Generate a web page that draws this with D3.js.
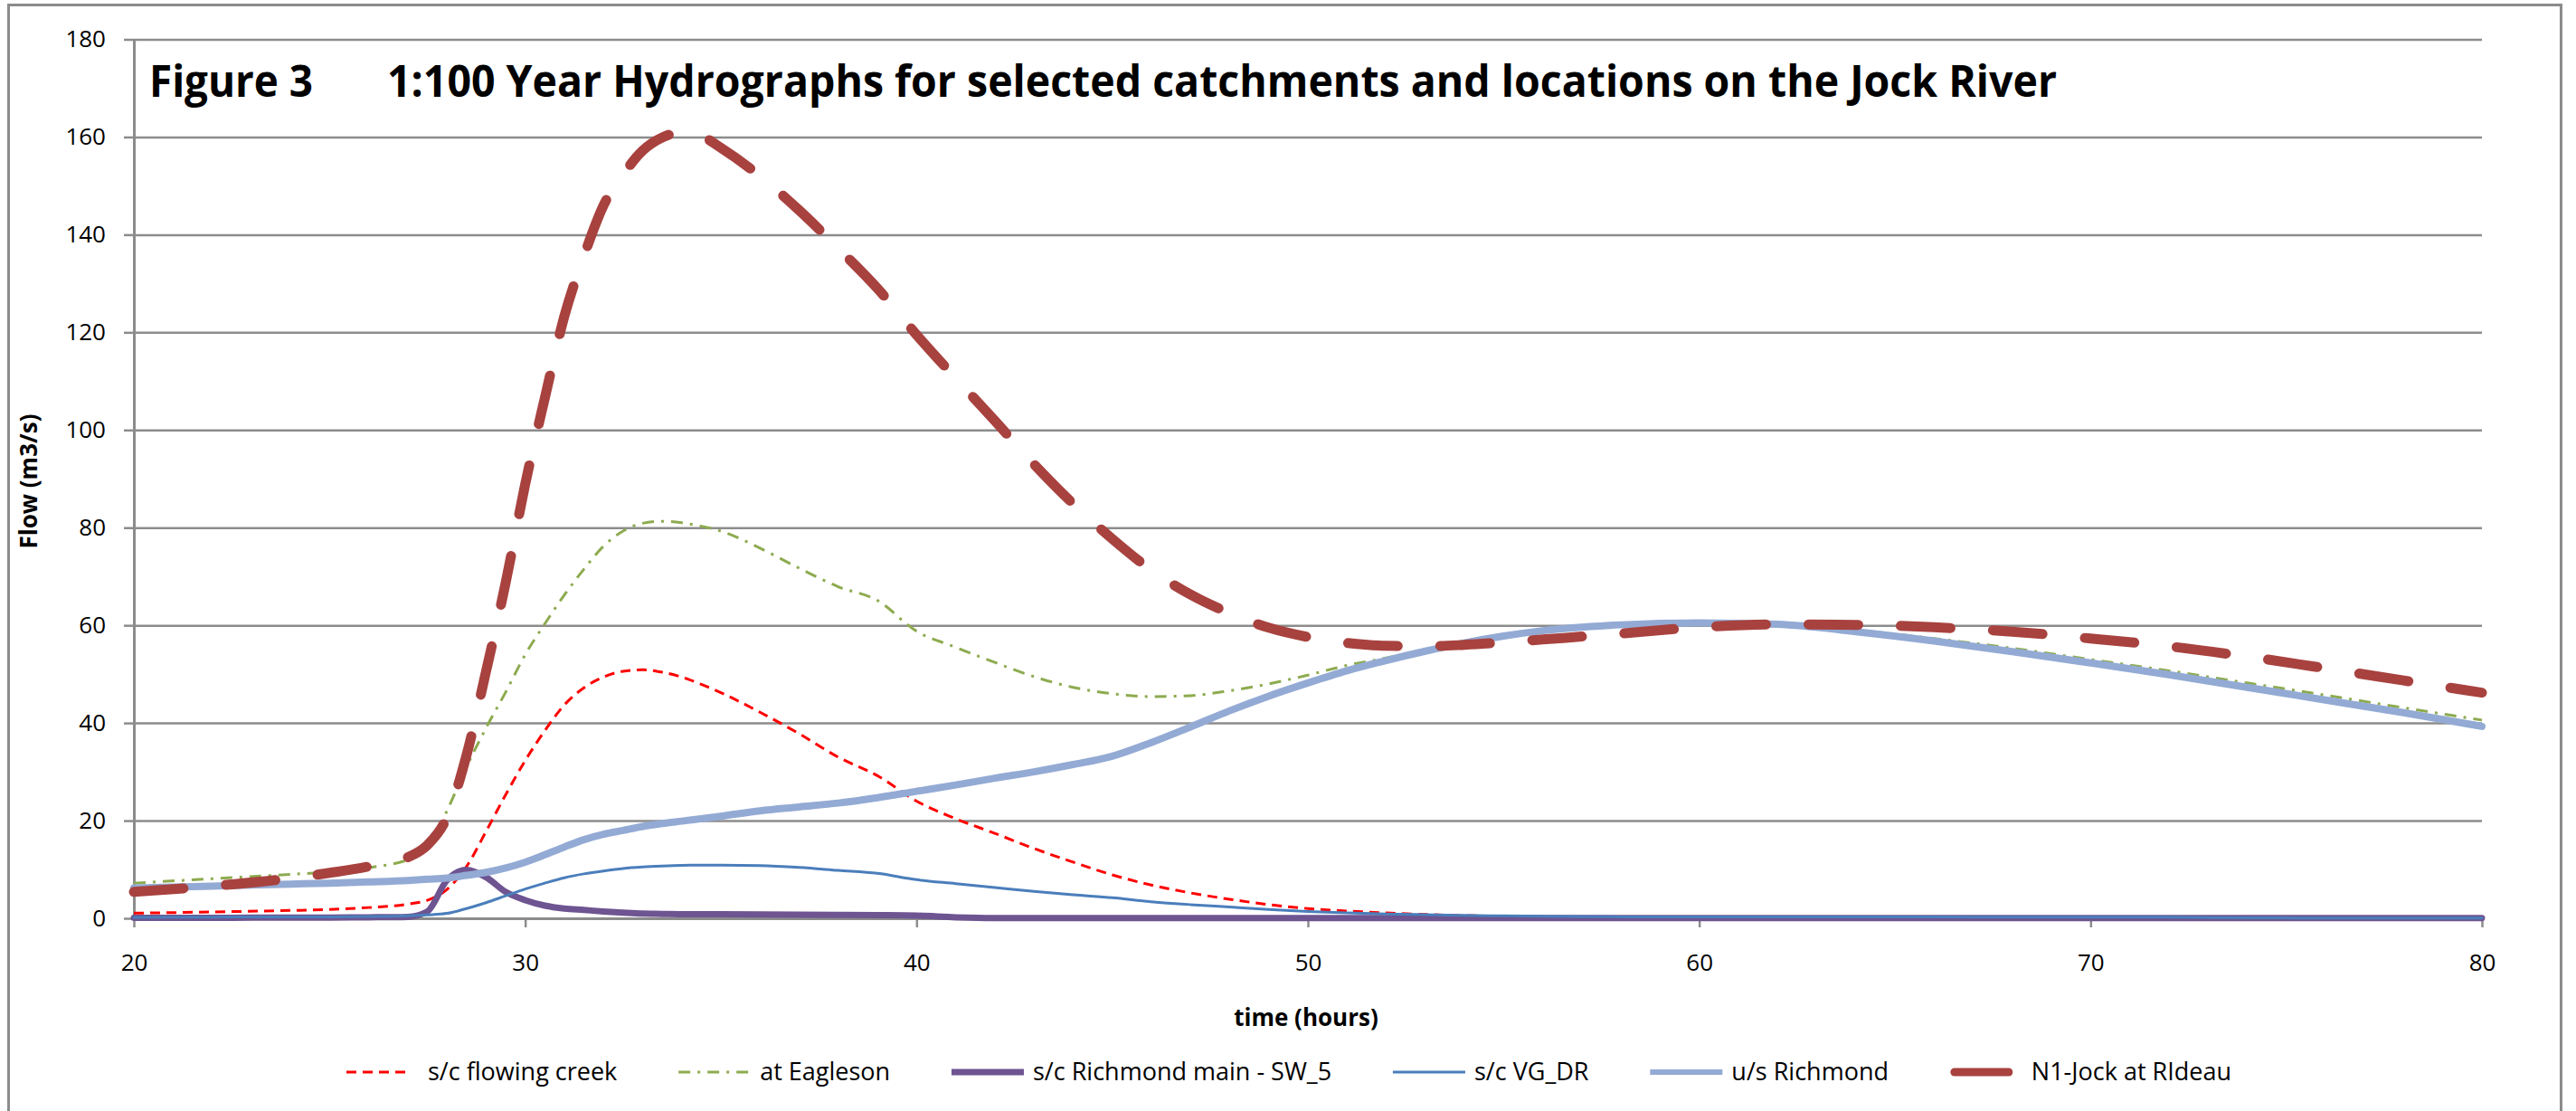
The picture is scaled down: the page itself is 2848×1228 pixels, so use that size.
<!DOCTYPE html>
<html><head><meta charset="utf-8">
<script src="https://cdn.jsdelivr.net/npm/d3@7"></script>
<style>html,body{margin:0;padding:0;background:#fff;} svg{display:block;}</style>
</head><body>
<svg id="chart" width="2848" height="1228"></svg>
<script>
// ---- DATA ----
const hours = [20,22,24,25,26,27,27.5,28,28.5,29,29.5,30,30.5,31,31.5,32,32.5,33,33.5,34,34.5,35,
  36,37,38,39,40,41,42,43,44,45,46,47,48,49,50,51,52,53,54,55,56,58,60,62,64,66,68,70,72,74,76,78,80];

const flowingCreek = [1.05,1.3,1.6,1.8,2.2,2.9,3.7,5.9,10.6,17.8,25.3,32.3,38.4,43.7,47.2,49.4,50.6,50.9,50.4,49.4,47.9,46.2,
  42.2,37.8,33.0,29.2,24.0,20.4,17.4,14.3,11.5,8.9,6.8,5.2,3.9,2.8,2.0,1.5,1.1,0.8,0.55,0.4,0.3,
  0.15,0.1,0.05,0.05,0.05,0.05,0.05,0.05,0.05,0.05,0.05,0.05];

const eagleson = [7.2,8.1,9.0,9.5,10.4,12.0,14.5,22,31,39,46.3,54,60.3,66.2,71.5,76.2,79.3,80.9,81.3,81,80.3,79.3,
  75.8,71.7,67.9,65.1,58.8,55.5,52.4,49.5,47.3,46.0,45.4,45.6,46.6,48.0,49.8,51.8,53.3,54.9,56.4,57.6,58.6,
  59.9,60.4,60.1,59.0,57.3,55.3,53.0,50.7,48.2,45.7,43.1,40.6];

const richmondMain = [0.1,0.1,0.15,0.15,0.2,0.3,1.4,7.8,9.9,8.4,5.4,3.7,2.6,2.0,1.7,1.4,1.15,0.95,0.9,0.85,0.85,0.85,
  0.8,0.75,0.7,0.65,0.55,0.2,0.05,0.05,0.05,0.05,0.05,0.05,0.05,0.05,0.05,0.05,0.05,0.05,0.05,0.05,0.05,
  0.05,0.05,0.05,0.05,0.05,0.05,0.05,0.05,0.05,0.05,0.05,0.05];

const vgDr = [0.2,0.25,0.3,0.3,0.35,0.5,0.7,1.0,2.0,3.2,4.6,6.0,7.2,8.3,9.1,9.7,10.2,10.5,10.7,10.85,10.9,10.9,
  10.8,10.4,9.8,9.2,7.9,7.1,6.3,5.5,4.8,4.2,3.4,2.8,2.3,1.8,1.4,1.1,0.9,0.75,0.6,0.5,0.4,
  0.3,0.3,0.28,0.27,0.26,0.25,0.25,0.22,0.1,0.05,0.05,0.05];

const usRichmond = [6.2,6.6,7.0,7.2,7.45,7.75,8.0,8.25,8.8,9.4,10.3,11.5,13.0,14.6,16.1,17.2,18.0,18.8,19.4,19.9,20.4,20.9,
  22.0,22.8,23.6,24.7,26.0,27.3,28.7,30.0,31.5,33.2,36.0,39.2,42.5,45.5,48.2,50.7,52.8,54.7,56.4,57.8,58.9,
  60.1,60.5,60.2,58.7,56.8,54.6,52.3,49.9,47.3,44.7,42.1,39.3];

const n1Jock = [5.4,6.6,8.2,9.3,10.6,12.5,15.0,20.7,33.4,50.6,68.7,88.9,106.5,123.3,135.6,146,152.3,157.2,159.9,160.9,160.2,157.8,
  152,145,137.2,129,119.5,110.6,101.9,93,84.9,77.7,71.3,66.3,62.5,59.5,57.6,56.4,55.8,55.7,56,56.5,57.1,
  58.3,59.6,60.2,60.1,59.6,58.7,57.3,55.7,53.6,51.2,48.7,46.2];

const seriesNames = ["s/c flowing creek","at Eagleson","s/c Richmond main - SW_5","s/c VG_DR","u/s Richmond","N1-Jock at RIdeau"];
const seriesValues = [flowingCreek, eagleson, richmondMain, vgDr, usRichmond, n1Jock];
const xTicks = [20,30,40,50,60,70,80];
const yTicks = [0,20,40,60,80,100,120,140,160,180];
const titleLabel = "Figure 3";
const titleText = "1:100 Year Hydrographs for selected catchments and locations on the Jock River";
const xTitle = "time (hours)";
const yTitle = "Flow (m3/s)";

// ---- STYLES ----
const styles = [
  {color:"#FF0000", width:3, dash:"11,7", cap:"butt"},
  {color:"#8DAB4F", width:3, dash:"13,8,3,8", cap:"butt"},
  {color:"#6E5491", width:7, dash:null, cap:"round"},
  {color:"#4A7EBB", width:3, dash:null, cap:"round"},
  {color:"#93AAD4", width:8, dash:null, cap:"round"},
  {color:"#A8423F", width:11, dash:"55,47", cap:"round"}
];

const W = 2848, H = 1228;
const plot = {left:148, right:2744, top:43.5, bottom:1015};
const font = "'Open Sans', 'Noto Sans', sans-serif";
const svg = d3.select("#chart");

const x = d3.scaleLinear().domain([20,80]).range([plot.left, plot.right]);
const y = d3.scaleLinear().domain([0,180]).range([plot.bottom, plot.top]);

svg.append("rect").attr("x",0).attr("y",0).attr("width",W).attr("height",H).attr("fill","#fff");
svg.append("rect").attr("x",9.5).attr("y",5.5).attr("width",2822).attr("height",1240)
  .attr("fill","none").attr("stroke","#8c8c8c").attr("stroke-width",3);

// gridlines
const grid = svg.append("g").attr("transform",`translate(${plot.left},0)`)
  .call(d3.axisLeft(y).tickValues(yTicks.filter(v=>v>0)).tickSize(-(plot.right-plot.left)).tickFormat(""));
grid.select(".domain").remove();
grid.selectAll("line").attr("stroke","#8c8c8c").attr("stroke-width",2.5);

// y axis
const yAxis = svg.append("g").attr("transform",`translate(${plot.left},0)`)
  .call(d3.axisLeft(y).tickValues(yTicks).tickSize(11).tickPadding(20).tickSizeOuter(0));
yAxis.select(".domain").attr("stroke","#8c8c8c").attr("stroke-width",3);
yAxis.selectAll(".tick line").attr("stroke","#8c8c8c").attr("stroke-width",2.5);
yAxis.selectAll("text").attr("font-family",font).attr("font-size",26).attr("fill","#000");

// x axis
const xAxis = svg.append("g").attr("transform",`translate(0,${plot.bottom})`)
  .call(d3.axisBottom(x).tickValues(xTicks).tickSize(10).tickPadding(30).tickSizeOuter(0));
xAxis.select(".domain").attr("stroke","#8c8c8c").attr("stroke-width",3);
xAxis.selectAll(".tick line").attr("stroke","#8c8c8c").attr("stroke-width",2.5);
xAxis.selectAll("text").attr("font-family",font).attr("font-size",26).attr("fill","#000");

// series lines
const line = d3.line().x(d=>x(d[0])).y(d=>y(d[1])).curve(d3.curveMonotoneX);
seriesValues.forEach((vals,i)=>{
  const s = styles[i];
  const pts = hours.map((h,j)=>[h, vals[j]]);
  const p = svg.append("path").datum(pts).attr("d",line)
    .attr("fill","none").attr("stroke",s.color).attr("stroke-width",s.width)
    .attr("stroke-linejoin","round").attr("stroke-linecap",s.cap);
  if (s.dash) p.attr("stroke-dasharray",s.dash);
});

// titles
svg.append("text").attr("x",165).attr("y",107).attr("font-family",font).attr("font-weight","bold")
  .attr("font-size",48).attr("textLength",181).attr("lengthAdjust","spacingAndGlyphs").text(titleLabel);
svg.append("text").attr("x",428).attr("y",107).attr("font-family",font).attr("font-weight","bold")
  .attr("font-size",48).attr("textLength",1846).attr("lengthAdjust","spacingAndGlyphs").text(titleText);

svg.append("text").attr("x",1444).attr("y",1134).attr("text-anchor","middle").attr("font-family",font)
  .attr("font-weight","bold").attr("font-size",26).text(xTitle);
svg.append("text").attr("transform","translate(41,532) rotate(-90)").attr("text-anchor","middle")
  .attr("font-family",font).attr("font-weight","bold").attr("font-size",26).text(yTitle);

// legend: spread between left start and right end of the reference legend
const legendStart = 383, legendEnd = 2467;
const swatch = 80, textGap = 10;
const groups = [], widths = [];
const legend = svg.append("g");
seriesNames.forEach((name,i)=>{
  const g = legend.append("g");
  const s = styles[i];
  let ln;
  if (i===5) ln = g.append("line").attr("x1",5).attr("x2",65);
  else if (i===0) ln = g.append("line").attr("x1",0).attr("x2",72);
  else ln = g.append("line").attr("x1",0).attr("x2",swatch);
  ln.attr("y1",1185).attr("y2",1185).attr("stroke",s.color)
    .attr("stroke-width", i===4 ? 6 : (i===5 ? 9 : s.width))
    .attr("stroke-linecap", (i===5) ? "round" : "butt");
  if (s.dash && i!==5) ln.attr("stroke-dasharray",s.dash);
  const t = g.append("text").attr("x",swatch+textGap).attr("y",1194).attr("font-family",font)
    .attr("font-size",27).attr("fill","#000").text(name);
  groups.push(g);
  widths.push(swatch + textGap + t.node().getComputedTextLength());
});
const itemGap = (legendEnd - legendStart - d3.sum(widths)) / (seriesNames.length - 1);
let cx = legendStart;
groups.forEach((g,i)=>{ g.attr("transform",`translate(${cx},0)`); cx += widths[i] + itemGap; });
</script>
</body></html>
